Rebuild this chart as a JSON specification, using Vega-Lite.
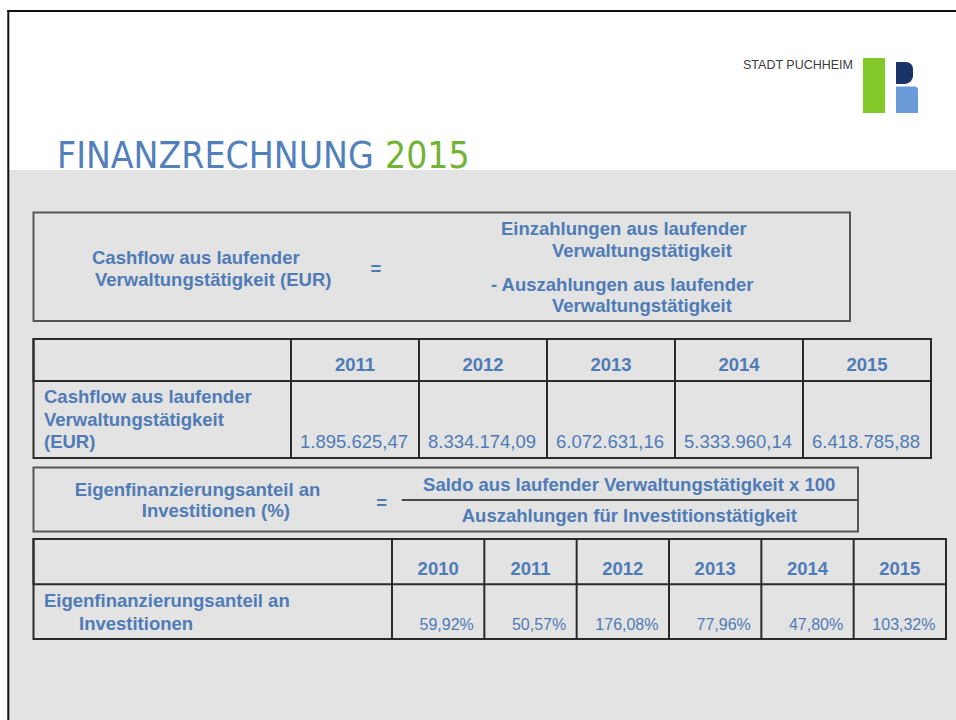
{
  "$schema": "https://vega.github.io/schema/vega-lite/v6.json",
  "width": 956,
  "height": 720,
  "padding": 0,
  "autosize": {"type": "none"},
  "background": "#ffffff",
  "config": {
    "view": {"stroke": null},
    "axis": {"disable": true},
    "legend": {"disable": true}
  },
  "resolve": {"scale": {"x": "independent", "y": "independent", "color": "independent"}},
  "datasets": {
    "cashflow": [
      {"jahr": "2011", "wert": "1.895.625,47"},
      {"jahr": "2012", "wert": "8.334.174,09"},
      {"jahr": "2013", "wert": "6.072.631,16"},
      {"jahr": "2014", "wert": "5.333.960,14"},
      {"jahr": "2015", "wert": "6.418.785,88"}
    ],
    "eigenfinanzierung": [
      {"jahr": "2010", "quote": "59,92%"},
      {"jahr": "2011", "quote": "50,57%"},
      {"jahr": "2012", "quote": "176,08%"},
      {"jahr": "2013", "quote": "77,96%"},
      {"jahr": "2014", "quote": "47,80%"},
      {"jahr": "2015", "quote": "103,32%"}
    ],
    "tabellenbereiche": [
      {"bereich": "Kopfzeile", "von": 0, "bis": 1},
      {"bereich": "Tabelle", "von": 0, "bis": 2}
    ]
  },
  "layer": [
    {
      "data": {"values": [{"bereich": "Inhalt"}]},
      "mark": {"type": "rect", "fill": "#e3e3e3"},
      "encoding": {
        "x": {"datum": 0, "type": "quantitative", "scale": {"domain": [0, 1], "range": [9, 956], "nice": false, "zero": false}},
        "x2": {"datum": 1},
        "y": {"datum": 0, "type": "quantitative", "scale": {"domain": [0, 1], "range": [170, 720], "nice": false, "zero": false}},
        "y2": {"datum": 1}
      }
    },
    {
      "data": {"values": [{"kante": "oben"}]},
      "mark": {"type": "rule", "stroke": "#111111", "strokeWidth": 2},
      "encoding": {
        "x": {"datum": 0, "type": "quantitative", "scale": {"domain": [0, 1], "range": [7.3, 956], "nice": false, "zero": false}},
        "x2": {"datum": 1},
        "y": {"datum": 0, "type": "quantitative", "scale": {"domain": [0, 1], "range": [11, 720], "nice": false, "zero": false}}
      }
    },
    {
      "data": {"values": [{"kante": "links"}]},
      "mark": {"type": "rule", "stroke": "#111111", "strokeWidth": 2},
      "encoding": {
        "x": {"datum": 0, "type": "quantitative", "scale": {"domain": [0, 1], "range": [8.3, 956], "nice": false, "zero": false}},
        "y": {"datum": 0, "type": "quantitative", "scale": {"domain": [0, 1], "range": [10, 720], "nice": false, "zero": false}},
        "y2": {"datum": 1}
      }
    },
    {
      "data": {"values": [{"teil": "Titel", "text": "FINANZRECHNUNG", "nr": 1}, {"teil": "Jahr", "text": "2015", "nr": 2}]},
      "mark": {"type": "text", "font": "DejaVu Sans Condensed, Liberation Sans", "fontSize": 37, "align": "left", "baseline": "alphabetic"},
      "encoding": {
        "text": {"field": "text"},
        "x": {"field": "nr", "type": "quantitative", "scale": {"domain": [1, 2], "range": [57, 385], "nice": false, "zero": false}},
        "y": {"field": "nr", "type": "quantitative", "scale": {"domain": [1, 2], "range": [168, 168], "nice": false, "zero": false}},
        "color": {"field": "teil", "type": "nominal", "scale": {"domain": ["Titel", "Jahr"], "range": ["#5280bb", "#72b335"]}, "legend": null}
      }
    },
    {
      "data": {"values": [{"nr": 1, "text": "STADT PUCHHEIM"}]},
      "mark": {"type": "text", "font": "Liberation Sans", "fontSize": 12.5, "align": "left", "baseline": "alphabetic", "fill": "#3c3c3c"},
      "encoding": {
        "text": {"field": "text"},
        "x": {"field": "nr", "type": "quantitative", "scale": {"domain": [0, 1], "range": [743, 743], "nice": false, "zero": false}},
        "y": {"field": "nr", "type": "quantitative", "scale": {"domain": [0, 1], "range": [68.5, 68.5], "nice": false, "zero": false}}
      }
    },
    {
      "data": {"values": [{"logoteil": "grüner Balken"}]},
      "mark": {"type": "rect", "fill": "#82c92a"},
      "encoding": {
        "x": {"datum": 0, "type": "quantitative", "scale": {"domain": [0, 1], "range": [863, 885], "nice": false, "zero": false}},
        "x2": {"datum": 1},
        "y": {"datum": 0, "type": "quantitative", "scale": {"domain": [0, 1], "range": [58, 113], "nice": false, "zero": false}},
        "y2": {"datum": 1}
      }
    },
    {
      "data": {"values": [{"logoteil": "dunkelblauer Bogen"}]},
      "mark": {"type": "rect", "fill": "#1c3368", "cornerRadiusTopRight": 7, "cornerRadiusBottomRight": 10},
      "encoding": {
        "x": {"datum": 0, "type": "quantitative", "scale": {"domain": [0, 1], "range": [896, 913], "nice": false, "zero": false}},
        "x2": {"datum": 1},
        "y": {"datum": 0, "type": "quantitative", "scale": {"domain": [0, 1], "range": [62, 84], "nice": false, "zero": false}},
        "y2": {"datum": 1}
      }
    },
    {
      "data": {"values": [{"logoteil": "hellblauer Schaft"}]},
      "mark": {"type": "rect", "fill": "#6b9bd8", "cornerRadiusTopRight": 3},
      "encoding": {
        "x": {"datum": 0, "type": "quantitative", "scale": {"domain": [0, 1], "range": [896, 918], "nice": false, "zero": false}},
        "x2": {"datum": 1},
        "y": {"datum": 0, "type": "quantitative", "scale": {"domain": [0, 1], "range": [86.5, 113], "nice": false, "zero": false}},
        "y2": {"datum": 1}
      }
    },
    {
      "data": {"values": [{"kasten": "Formel Cashflow"}]},
      "mark": {"type": "rect", "fill": null, "stroke": "#555555", "strokeWidth": 2},
      "encoding": {
        "x": {"datum": 0, "type": "quantitative", "scale": {"domain": [0, 1], "range": [33.5, 850], "nice": false, "zero": false}},
        "x2": {"datum": 1},
        "y": {"datum": 0, "type": "quantitative", "scale": {"domain": [0, 1], "range": [212.5, 321], "nice": false, "zero": false}},
        "y2": {"datum": 1}
      }
    },
    {
      "data": {"values": [{"nr": 1, "text": "Cashflow aus laufender"}, {"nr": 2, "text": "Verwaltungstätigkeit (EUR)"}]},
      "mark": {"type": "text", "font": "Liberation Sans", "fontWeight": "bold", "fontSize": 18.5, "align": "left", "baseline": "alphabetic", "fill": "#4f7bb6"},
      "encoding": {
        "text": {"field": "text"},
        "x": {"field": "nr", "type": "quantitative", "scale": {"domain": [1, 2], "range": [92, 95], "nice": false, "zero": false}},
        "y": {"field": "nr", "type": "quantitative", "scale": {"domain": [1, 2], "range": [263.5, 286], "nice": false, "zero": false}}
      }
    },
    {
      "data": {"values": [{"nr": 1, "text": "Einzahlungen aus laufender"}, {"nr": 2, "text": "Verwaltungstätigkeit"}, {"nr": 3, "text": "- Auszahlungen aus laufender"}, {"nr": 4, "text": "Verwaltungstätigkeit"}]},
      "mark": {"type": "text", "font": "Liberation Sans", "fontWeight": "bold", "fontSize": 18.5, "align": "left", "baseline": "alphabetic", "fill": "#4f7bb6"},
      "encoding": {
        "text": {"field": "text"},
        "x": {"field": "nr", "type": "quantitative", "scale": {"domain": [1, 2, 3, 4], "range": [501, 552, 491, 552], "nice": false, "zero": false}},
        "y": {"field": "nr", "type": "quantitative", "scale": {"domain": [1, 2, 3, 4], "range": [235, 257.3, 290.7, 311.7], "nice": false, "zero": false}}
      }
    },
    {
      "data": {"values": [{"nr": 1, "text": "="}, {"nr": 2, "text": "="}]},
      "mark": {"type": "text", "font": "Liberation Sans", "fontWeight": "bold", "fontSize": 18.5, "align": "center", "baseline": "alphabetic", "fill": "#4f7bb6"},
      "encoding": {
        "text": {"field": "text"},
        "x": {"field": "nr", "type": "quantitative", "scale": {"domain": [1, 2], "range": [376, 381.7], "nice": false, "zero": false}},
        "y": {"field": "nr", "type": "quantitative", "scale": {"domain": [1, 2], "range": [275.4, 508.7], "nice": false, "zero": false}}
      }
    },
    {
      "data": {"name": "tabellenbereiche"},
      "mark": {"type": "rect", "fill": null, "stroke": "#2a2a2a", "strokeWidth": 2},
      "encoding": {
        "x": {"datum": 0, "type": "quantitative", "scale": {"domain": [0, 1], "range": [33.5, 931], "nice": false, "zero": false}},
        "x2": {"datum": 1},
        "y": {"field": "von", "type": "quantitative", "scale": {"domain": [0, 1, 2], "range": [339, 381, 458], "nice": false, "zero": false}},
        "y2": {"field": "bis"}
      }
    },
    {
      "data": {"name": "cashflow"},
      "mark": {"type": "rule", "stroke": "#2a2a2a", "strokeWidth": 2},
      "encoding": {
        "x": {"field": "jahr", "type": "ordinal", "bandPosition": 0, "scale": {"type": "band", "domain": ["2011", "2012", "2013", "2014", "2015"], "range": [291, 931], "paddingInner": 0, "paddingOuter": 0}},
        "y": {"datum": 0, "type": "quantitative", "scale": {"domain": [0, 1, 2], "range": [339, 381, 458], "nice": false, "zero": false}},
        "y2": {"datum": 2}
      }
    },
    {
      "data": {"name": "cashflow"},
      "mark": {"type": "text", "font": "Liberation Sans", "fontWeight": "bold", "fontSize": 18.5, "align": "center", "baseline": "alphabetic", "fill": "#4f7bb6", "dy": -10},
      "encoding": {
        "text": {"field": "jahr"},
        "x": {"field": "jahr", "type": "ordinal", "bandPosition": 0.5, "scale": {"type": "band", "domain": ["2011", "2012", "2013", "2014", "2015"], "range": [291, 931], "paddingInner": 0, "paddingOuter": 0}},
        "y": {"datum": 1, "type": "quantitative", "scale": {"domain": [0, 1, 2], "range": [339, 381, 458], "nice": false, "zero": false}}
      }
    },
    {
      "data": {"name": "cashflow"},
      "mark": {"type": "text", "font": "Liberation Sans", "fontSize": 18.5, "align": "right", "baseline": "alphabetic", "fill": "#4f7bb6", "dx": -11, "dy": -9.7},
      "encoding": {
        "text": {"field": "wert"},
        "x": {"field": "jahr", "type": "ordinal", "bandPosition": 1, "scale": {"type": "band", "domain": ["2011", "2012", "2013", "2014", "2015"], "range": [291, 931], "paddingInner": 0, "paddingOuter": 0}},
        "y": {"datum": 2, "type": "quantitative", "scale": {"domain": [0, 1, 2], "range": [339, 381, 458], "nice": false, "zero": false}}
      }
    },
    {
      "data": {"values": [{"nr": 1, "text": "Cashflow aus laufender"}, {"nr": 2, "text": "Verwaltungstätigkeit"}, {"nr": 3, "text": "(EUR)"}]},
      "mark": {"type": "text", "font": "Liberation Sans", "fontWeight": "bold", "fontSize": 18.5, "align": "left", "baseline": "alphabetic", "fill": "#4f7bb6"},
      "encoding": {
        "text": {"field": "text"},
        "x": {"field": "nr", "type": "quantitative", "scale": {"domain": [1, 3], "range": [44, 44], "nice": false, "zero": false}},
        "y": {"field": "nr", "type": "quantitative", "scale": {"domain": [1, 3], "range": [403.3, 448.3], "nice": false, "zero": false}}
      }
    },
    {
      "data": {"values": [{"kasten": "Formel Eigenfinanzierung"}]},
      "mark": {"type": "rect", "fill": null, "stroke": "#555555", "strokeWidth": 2},
      "encoding": {
        "x": {"datum": 0, "type": "quantitative", "scale": {"domain": [0, 1], "range": [33.5, 858], "nice": false, "zero": false}},
        "x2": {"datum": 1},
        "y": {"datum": 0, "type": "quantitative", "scale": {"domain": [0, 1], "range": [467.5, 531.5], "nice": false, "zero": false}},
        "y2": {"datum": 1}
      }
    },
    {
      "data": {"values": [{"linie": "Bruchstrich"}]},
      "mark": {"type": "rule", "stroke": "#4a4a4a", "strokeWidth": 2},
      "encoding": {
        "x": {"datum": 0, "type": "quantitative", "scale": {"domain": [0, 1], "range": [401.7, 858], "nice": false, "zero": false}},
        "x2": {"datum": 1},
        "y": {"datum": 0, "type": "quantitative", "scale": {"domain": [0, 1], "range": [500, 531.5], "nice": false, "zero": false}}
      }
    },
    {
      "data": {"values": [{"nr": 1, "text": "Eigenfinanzierungsanteil an"}, {"nr": 2, "text": "Investitionen (%)"}, {"nr": 3, "text": "Saldo aus laufender Verwaltungstätigkeit x 100"}, {"nr": 4, "text": "Auszahlungen für Investitionstätigkeit"}]},
      "mark": {"type": "text", "font": "Liberation Sans", "fontWeight": "bold", "fontSize": 18.5, "align": "center", "baseline": "alphabetic", "fill": "#4f7bb6"},
      "encoding": {
        "text": {"field": "text"},
        "x": {"field": "nr", "type": "quantitative", "scale": {"domain": [1, 2, 3, 4], "range": [197.5, 215.8, 629.2, 629.3], "nice": false, "zero": false}},
        "y": {"field": "nr", "type": "quantitative", "scale": {"domain": [1, 2, 3, 4], "range": [495.7, 517.3, 490.7, 522.3], "nice": false, "zero": false}}
      }
    },
    {
      "data": {"name": "tabellenbereiche"},
      "mark": {"type": "rect", "fill": null, "stroke": "#2a2a2a", "strokeWidth": 2},
      "encoding": {
        "x": {"datum": 0, "type": "quantitative", "scale": {"domain": [0, 1], "range": [33.5, 946], "nice": false, "zero": false}},
        "x2": {"datum": 1},
        "y": {"field": "von", "type": "quantitative", "scale": {"domain": [0, 1, 2], "range": [539, 584.3, 639], "nice": false, "zero": false}},
        "y2": {"field": "bis"}
      }
    },
    {
      "data": {"name": "eigenfinanzierung"},
      "mark": {"type": "rule", "stroke": "#2a2a2a", "strokeWidth": 2},
      "encoding": {
        "x": {"field": "jahr", "type": "ordinal", "bandPosition": 0, "scale": {"type": "band", "domain": ["2010", "2011", "2012", "2013", "2014", "2015"], "range": [392, 946], "paddingInner": 0, "paddingOuter": 0}},
        "y": {"datum": 0, "type": "quantitative", "scale": {"domain": [0, 1, 2], "range": [539, 584.3, 639], "nice": false, "zero": false}},
        "y2": {"datum": 2}
      }
    },
    {
      "data": {"name": "eigenfinanzierung"},
      "mark": {"type": "text", "font": "Liberation Sans", "fontWeight": "bold", "fontSize": 18.5, "align": "center", "baseline": "alphabetic", "fill": "#4f7bb6", "dy": -9.3},
      "encoding": {
        "text": {"field": "jahr"},
        "x": {"field": "jahr", "type": "ordinal", "bandPosition": 0.5, "scale": {"type": "band", "domain": ["2010", "2011", "2012", "2013", "2014", "2015"], "range": [392, 946], "paddingInner": 0, "paddingOuter": 0}},
        "y": {"datum": 1, "type": "quantitative", "scale": {"domain": [0, 1, 2], "range": [539, 584.3, 639], "nice": false, "zero": false}}
      }
    },
    {
      "data": {"name": "eigenfinanzierung"},
      "mark": {"type": "text", "font": "Liberation Sans", "fontSize": 16, "align": "right", "baseline": "alphabetic", "fill": "#4f7bb6", "dx": -10.5, "dy": -9},
      "encoding": {
        "text": {"field": "quote"},
        "x": {"field": "jahr", "type": "ordinal", "bandPosition": 1, "scale": {"type": "band", "domain": ["2010", "2011", "2012", "2013", "2014", "2015"], "range": [392, 946], "paddingInner": 0, "paddingOuter": 0}},
        "y": {"datum": 2, "type": "quantitative", "scale": {"domain": [0, 1, 2], "range": [539, 584.3, 639], "nice": false, "zero": false}}
      }
    },
    {
      "data": {"values": [{"nr": 1, "text": "Eigenfinanzierungsanteil an"}, {"nr": 2, "text": "Investitionen"}]},
      "mark": {"type": "text", "font": "Liberation Sans", "fontWeight": "bold", "fontSize": 18.5, "align": "left", "baseline": "alphabetic", "fill": "#4f7bb6"},
      "encoding": {
        "text": {"field": "text"},
        "x": {"field": "nr", "type": "quantitative", "scale": {"domain": [1, 2], "range": [44, 79], "nice": false, "zero": false}},
        "y": {"field": "nr", "type": "quantitative", "scale": {"domain": [1, 2], "range": [607.3, 630], "nice": false, "zero": false}}
      }
    }
  ]
}
